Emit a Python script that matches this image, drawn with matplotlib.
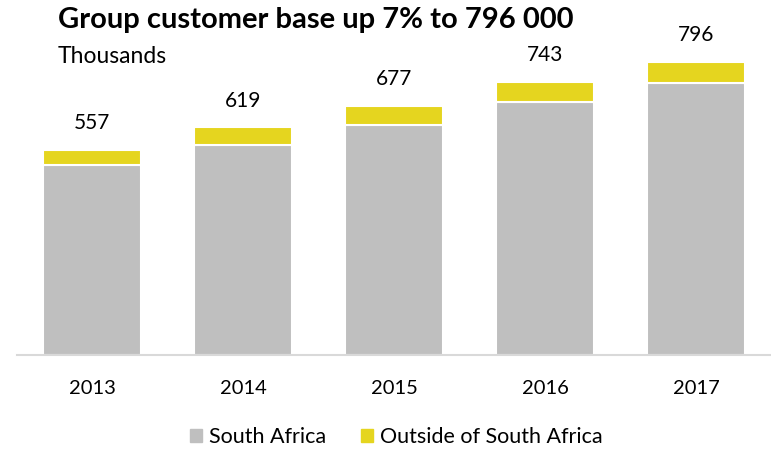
import matplotlib.pyplot as plt
from matplotlib.patches import Patch

years = ['2013', '2014', '2015', '2016', '2017']
south_africa = [516, 570, 624, 687, 739]
outside_sa = [41, 49, 53, 56, 57]
totals = [557, 619, 677, 743, 796]

grey = '#bfbfbf'
yellow = '#e5d51f'

plt.rcParams['font.family'] = ['Lato', 'DejaVu Sans']

fig = plt.figure(figsize=(7.71, 4.49), dpi=100)
ax = fig.add_axes([16.5 / 771, 94 / 449, 755 / 771, 315 / 449])

x = range(len(years))
ax.bar(x, south_africa, width=0.65, color=grey, edgecolor='white', linewidth=1.5)
ax.bar(x, outside_sa, width=0.65, bottom=south_africa, color=yellow,
       edgecolor='white', linewidth=1.5)

for i, t in enumerate(totals):
    ax.annotate(str(t), (i, t), xytext=(0, 12), textcoords='offset points',
                ha='center', va='bottom', fontsize=15)

ax.set_xlim(-0.5, len(years) - 0.5)
ax.set_ylim(0, 315 / 0.368)
ax.set_xticks(list(x))
ax.set_xticklabels(years, fontsize=14.5)
ax.tick_params(axis='x', length=0, pad=18)
ax.set_yticks([])
for side in ['top', 'left', 'right']:
    ax.spines[side].set_visible(False)
ax.spines['bottom'].set_color('#d9d9d9')
ax.spines['bottom'].set_linewidth(1.5)

fig.text(58 / 771, 1 - 28 / 449, 'Group customer base up 7% to 796 000',
         fontsize=21, fontweight='bold', va='baseline')
fig.text(58 / 771, 1 - 63 / 449, 'Thousands', fontsize=16.5, va='baseline')

handles = [Patch(color=grey, label='South Africa'),
           Patch(color=yellow, label='Outside of South Africa')]
fig.legend(handles=handles, loc='center', bbox_to_anchor=(0.514, 1 - 437 / 449),
           ncol=2, frameon=False, fontsize=15.5, handlelength=0.55,
           handleheight=0.55, handletextpad=0.35, columnspacing=1.6)

fig.savefig('out.png', dpi=100)
